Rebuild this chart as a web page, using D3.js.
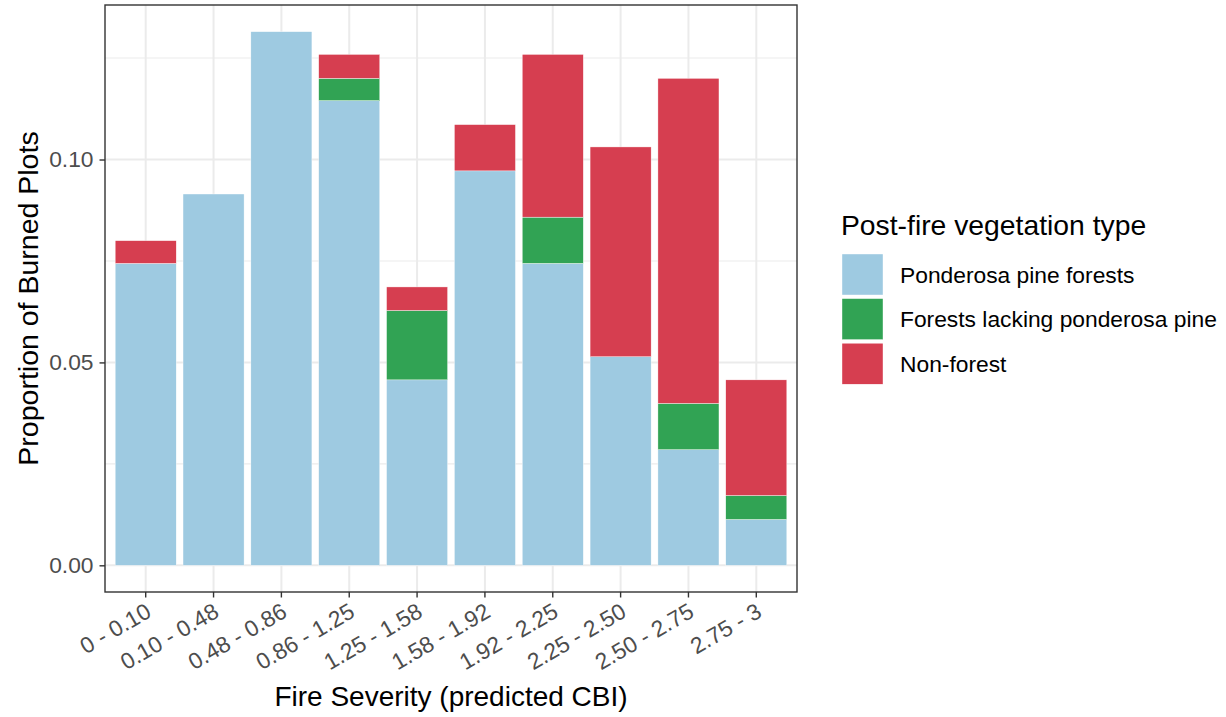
<!DOCTYPE html>
<html>
<head>
<meta charset="utf-8">
<script src="https://cdn.jsdelivr.net/npm/d3@7"></script>
<style>
  html, body { margin: 0; padding: 0; background: #ffffff; }
  svg { display: block; font-family: "Liberation Sans", Arial, sans-serif; }
</style>
</head>
<body>
<svg id="chart" width="1226" height="717"></svg>
<script>
// ---- data ----
const categories = ["0 - 0.10", "0.10 - 0.48", "0.48 - 0.86", "0.86 - 1.25", "1.25 - 1.58",
                    "1.58 - 1.92", "1.92 - 2.25", "2.25 - 2.50", "2.50 - 2.75", "2.75 - 3"];
const seriesNames = ["Ponderosa pine forests", "Forests lacking ponderosa pine", "Non-forest"];
const ponderosa = [0.0744, 0.0915, 0.1315, 0.1145, 0.0457, 0.0972, 0.0744, 0.0514, 0.0285, 0.0113];
const lacking   = [0.0000, 0.0000, 0.0000, 0.0055, 0.0171, 0.0000, 0.0114, 0.0000, 0.0114, 0.0059];
const nonforest = [0.0056, 0.0000, 0.0000, 0.0059, 0.0058, 0.0114, 0.0401, 0.0517, 0.0801, 0.0285];
const yTicks = [0.00, 0.05, 0.10];
const yMinorTicks = [0.025, 0.075, 0.125];
const colors = ["#9ecae1", "#31a354", "#d63e50"];

const legendTitle = "Post-fire vegetation type";
const xTitle = "Fire Severity (predicted CBI)";
const yTitle = "Proportion of Burned Plots";

// ---- build table ----
const rows = categories.map((c, i) => ({
  cat: c,
  [seriesNames[0]]: ponderosa[i],
  [seriesNames[1]]: lacking[i],
  [seriesNames[2]]: nonforest[i]
}));
const stacked = d3.stack().keys(seriesNames)(rows);
const maxTotal = d3.max(rows, r => seriesNames.reduce((s, k) => s + r[k], 0));

// ---- layout ----
const panel = { left: 105, right: 797, top: 5, bottom: 592 };
const svg = d3.select("#chart");

const x = d3.scaleBand()
  .domain(categories)
  .range([panel.left, panel.right])
  .paddingInner(0.1)
  .paddingOuter(0.15);

const y = d3.scaleLinear()
  .domain([-0.05 * maxTotal, 1.05 * maxTotal])
  .range([panel.bottom, panel.top]);

const color = d3.scaleOrdinal().domain(seriesNames).range(colors);

// panel background
svg.append("rect")
  .attr("x", panel.left).attr("y", panel.top)
  .attr("width", panel.right - panel.left).attr("height", panel.bottom - panel.top)
  .attr("fill", "#ffffff");

// grid lines
const grid = svg.append("g");
grid.selectAll("line.minor").data(yMinorTicks).join("line")
  .attr("class", "minor")
  .attr("x1", panel.left).attr("x2", panel.right)
  .attr("y1", d => y(d)).attr("y2", d => y(d))
  .attr("stroke", "#ebebeb").attr("stroke-width", 1.1);
grid.selectAll("line.majory").data(yTicks).join("line")
  .attr("class", "majory")
  .attr("x1", panel.left).attr("x2", panel.right)
  .attr("y1", d => y(d)).attr("y2", d => y(d))
  .attr("stroke", "#ebebeb").attr("stroke-width", 2);
grid.selectAll("line.majorx").data(categories).join("line")
  .attr("class", "majorx")
  .attr("x1", d => x(d) + x.bandwidth() / 2).attr("x2", d => x(d) + x.bandwidth() / 2)
  .attr("y1", panel.top).attr("y2", panel.bottom)
  .attr("stroke", "#ebebeb").attr("stroke-width", 2);

// bars
svg.append("g").selectAll("g").data(stacked).join("g")
  .attr("fill", d => color(d.key))
  .selectAll("rect").data(d => d.filter(p => p[1] - p[0] > 0)).join("rect")
  .attr("x", d => x(d.data.cat))
  .attr("width", x.bandwidth())
  .attr("y", d => y(d[1]))
  .attr("height", d => y(d[0]) - y(d[1]))
  .attr("stroke", "#ffffff").attr("stroke-width", 0.4);

// panel border
svg.append("rect")
  .attr("x", panel.left).attr("y", panel.top)
  .attr("width", panel.right - panel.left).attr("height", panel.bottom - panel.top)
  .attr("fill", "none").attr("stroke", "#333333").attr("stroke-width", 1.4);

// y axis
const yAxis = d3.axisLeft(y).tickValues(yTicks).tickFormat(d3.format(".2f")).tickSize(5.5).tickPadding(6);
const gy = svg.append("g").attr("transform", `translate(${panel.left},0)`).call(yAxis);
gy.select(".domain").remove();
gy.selectAll(".tick line").attr("stroke", "#333333").attr("stroke-width", 1.4);
gy.selectAll(".tick text").attr("fill", "#4d4d4d").style("font-size", "22.8px")
  .style("font-family", "'Liberation Sans', Arial, sans-serif");

// x axis
const xAxis = d3.axisBottom(x).tickSize(5.5).tickPadding(0);
const gx = svg.append("g").attr("transform", `translate(0,${panel.bottom})`).call(xAxis);
gx.select(".domain").remove();
gx.selectAll(".tick line").attr("stroke", "#333333").attr("stroke-width", 1.4);
gx.selectAll(".tick text")
  .attr("fill", "#4d4d4d")
  .style("font-size", "22.8px")
  .style("font-family", "'Liberation Sans', Arial, sans-serif")
  .attr("text-anchor", "end")
  .attr("y", 0).attr("dy", "0")
  .attr("transform", "translate(7,24) rotate(-30)");

// axis titles
svg.append("text")
  .attr("x", (panel.left + panel.right) / 2).attr("y", 706)
  .attr("text-anchor", "middle")
  .style("font-size", "28px").attr("fill", "#000000")
  .text(xTitle);

svg.append("text")
  .attr("transform", `translate(38,${(panel.top + panel.bottom) / 2}) rotate(-90)`)
  .attr("text-anchor", "middle")
  .style("font-size", "28.5px").attr("fill", "#000000")
  .text(yTitle);

// legend
const lg = svg.append("g").attr("transform", "translate(841,0)");
lg.append("text").attr("x", 0).attr("y", 235)
  .style("font-size", "28.3px").attr("fill", "#000000")
  .text(legendTitle);
const items = lg.selectAll("g.item").data(seriesNames).join("g")
  .attr("class", "item")
  .attr("transform", (d, i) => `translate(0,${253 + i * 44.6})`);
items.append("rect")
  .attr("x", 1).attr("y", 1).attr("width", 41).attr("height", 41)
  .attr("fill", d => color(d)).attr("stroke", "#ffffff").attr("stroke-width", 0.4);
items.append("text")
  .attr("x", 59).attr("y", 21.5)
  .attr("dy", "0.36em")
  .style("font-size", "22.8px").attr("fill", "#000000")
  .text(d => d);
</script>
</body>
</html>
